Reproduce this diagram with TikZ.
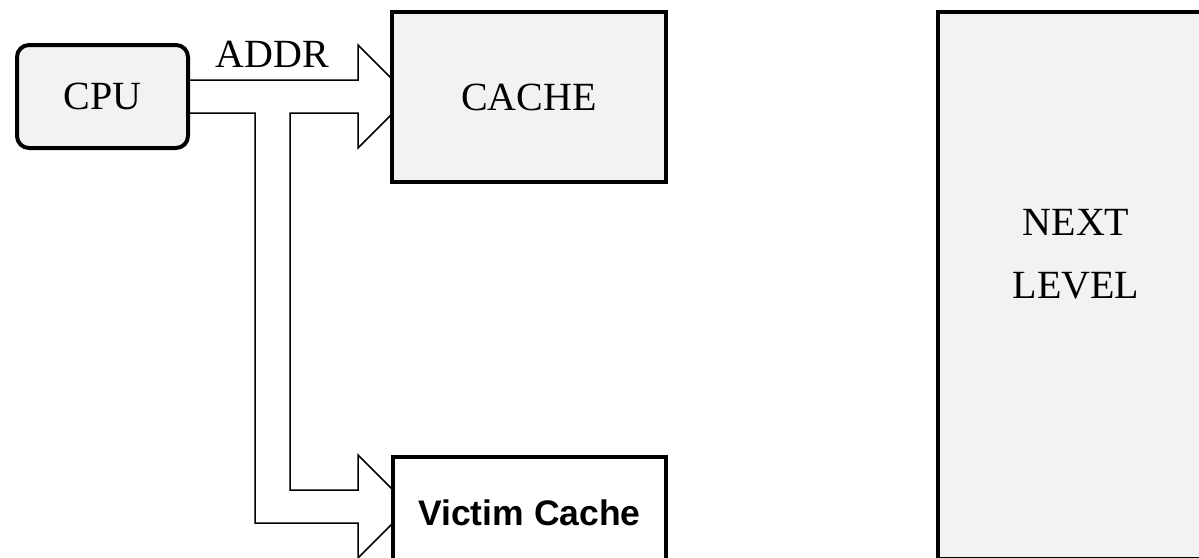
\documentclass[tikz,border=0pt]{standalone}
\usepackage{fontspec}
\setmainfont{Liberation Serif}
\setsansfont{Liberation Sans}
\usetikzlibrary{calc}
\pgfdeclarelayer{background}
\pgfsetlayers{background,main}
\definecolor{boxgray}{HTML}{F2F2F2}
\tikzset{
  unitbox/.style={draw=black, line width=2pt, fill=boxgray, inner sep=0pt, font=\fontsize{20}{24}\selectfont},
  busline/.style={draw=black, line width=0.75pt, fill=white, line join=miter},
}

\begin{document}
\begin{tikzpicture}[x=0.5pt,y=-0.5pt]
    \clip (0,0) rectangle (1199,557);
    \node[unitbox, rounded corners=6pt, minimum width=85.5pt, minimum height=51.5pt] (cpu) at (102.5,96.5) {CPU};
    \node[unitbox, minimum width=137pt, minimum height=85pt] (cache) at (529,97) {CACHE};
    \node[unitbox, fill=white, minimum width=136.5pt, minimum height=56pt, font=\sffamily\bfseries\fontsize{17.75}{20}\selectfont] (victim) at (529.5,513) {Victim Cache};
    \node[unitbox, minimum width=138pt, minimum height=273.5pt] (nextlvl) at (1076,285.5) {};
    \node[align=center, inner sep=0pt, font=\fontsize{20}{31.5}\selectfont] (nextlbl) at (1076,254) {NEXT\\LEVEL};
    \node[anchor=base, inner sep=0pt, font=\fontsize{20}{24}\selectfont] (addr) at (272.5,67) {ADDR};
    \begin{pgfonlayer}{background}
    \draw[busline] ($(cpu.east)+(-4,-16.5)$) -- (358,80) -- (358,45) -- ($(cache.west)+(19.5,-0.5)$) -- (358,148) -- (358,113) -- (290,113) -- (290,490) -- (358,490) -- (358,455) -- ($(victim.west)+(18.5,-6.5)$) -- (358,558) -- (358,523) -- (255,523) -- (255,113) -- ($(cpu.east)+(-4,16.5)$) -- cycle;
    \end{pgfonlayer}
\end{tikzpicture}
\end{document}
